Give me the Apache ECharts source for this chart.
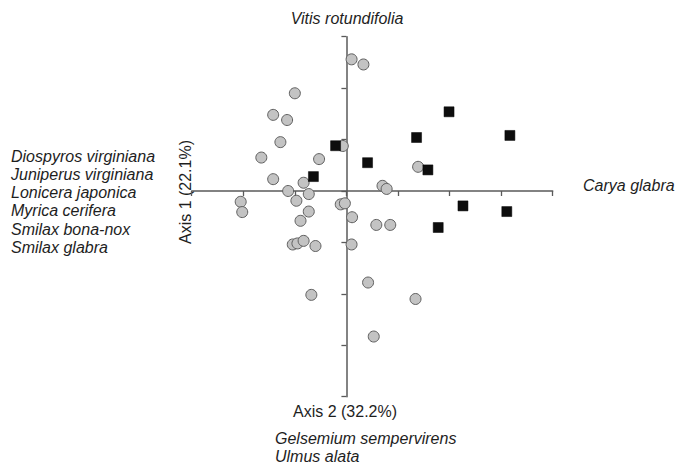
<!DOCTYPE html>
<html>
<head>
<meta charset="utf-8">
<script src="https://cdn.jsdelivr.net/npm/echarts@6/dist/echarts.min.js"></script>
<style>
html,body{margin:0;padding:0;background:#fff;}
#chart{width:678px;height:467px;}
</style>
</head>
<body>
<div id="chart"></div>
<script>
// Circle sites (axis 2 score, axis 1 score)
const circleX = [0.10, 0.33, -1.00, -1.42, -1.15, -1.28, -0.07, -1.65, -0.53, 1.39, -1.42, -0.83, 0.70, 0.78, -1.13, -0.73, -0.97, -2.05, -2.02, -0.11, -0.03, -0.73, 0.11, -0.89, 0.58, 0.85, -1.04, -0.95, -0.83, -0.60, 0.10, 0.42, -0.68, 1.34, 0.53];
const circleY = [2.56, 2.46, 1.90, 1.48, 1.38, 0.95, 0.875, 0.65, 0.62, 0.47, 0.23, 0.16, 0.10, 0.04, 0.00, -0.06, -0.19, -0.21, -0.41, -0.26, -0.24, -0.40, -0.51, -0.58, -0.66, -0.66, -1.04, -1.02, -0.97, -1.07, -1.04, -1.78, -2.02, -2.10, -2.83];
// Square sites
const squareX = [1.99, 3.17, 1.36, -0.21, 0.41, 1.58, -0.64, 2.26, 3.11, 1.78];
const squareY = [1.54, 1.08, 1.04, 0.88, 0.55, 0.41, 0.28, -0.29, -0.40, -0.71];
// Axis ticks
const xTicks = [-3, -2, -1, 0, 1, 2, 3, 4];
const yTicks = [-4, -3, -2, -1, 0, 1, 2, 3];
// Text
const axis1Name = 'Axis 1 (22.1%)';
const axis2Name = 'Axis 2 (32.2%)';
const topSpecies = ['Vitis rotundifolia'];
const rightSpecies = ['Carya glabra'];
const leftSpecies = ['Diospyros virginiana', 'Juniperus virginiana', 'Lonicera japonica', 'Myrica cerifera', 'Smilax bona-nox', 'Smilax glabra'];
const bottomSpecies = ['Gelsemium sempervirens', 'Ulmus alata'];

const FONT = '16px "Liberation Sans", Arial, sans-serif';
const IFONT = 'italic 16px "Liberation Sans", Arial, sans-serif';
const TXT = '#1e1e1e';

const chart = echarts.init(document.getElementById('chart'), null, {renderer: 'svg'});

const graphics = [];
topSpecies.forEach((t, i) => graphics.push({type: 'text', x: 347, y: 18 + i * 18.3, style: {text: t, font: IFONT, fill: TXT, align: 'center', verticalAlign: 'middle'}}));
rightSpecies.forEach((t, i) => graphics.push({type: 'text', x: 583, y: 185 + i * 18.3, style: {text: t, font: IFONT, fill: TXT, align: 'left', verticalAlign: 'middle'}}));
leftSpecies.forEach((t, i) => graphics.push({type: 'text', x: 11, y: 156 + i * 18.3, style: {text: t, font: IFONT, fill: TXT, align: 'left', verticalAlign: 'middle'}}));
bottomSpecies.forEach((t, i) => graphics.push({type: 'text', x: 275, y: 438.5 + i * 18.3, style: {text: t, font: IFONT, fill: TXT, align: 'left', verticalAlign: 'middle'}}));
graphics.push({type: 'text', x: 345, y: 411, style: {text: axis2Name, font: FONT, fill: TXT, align: 'center', verticalAlign: 'middle'}});
graphics.push({type: 'text', x: 185, y: 192, rotation: Math.PI / 2, style: {text: axis1Name, font: FONT, fill: TXT, align: 'center', verticalAlign: 'middle'}});

const axisCommon = {
  type: 'value',
  interval: 1,
  axisLine: {show: true, onZero: true, lineStyle: {color: '#5a5a5a', width: 1.5}},
  axisTick: {show: true, inside: false, length: 5, lineStyle: {color: '#5a5a5a', width: 1.3}},
  axisLabel: {show: false},
  splitLine: {show: false}
};

chart.setOption({
  backgroundColor: '#ffffff',
  animation: false,
  grid: {left: 191.7, right: 125.3, top: 36.7, bottom: 70.3},
  xAxis: Object.assign({}, axisCommon, {min: xTicks[0], max: xTicks[xTicks.length - 1]}),
  yAxis: Object.assign({}, axisCommon, {min: yTicks[0], max: yTicks[yTicks.length - 1]}),
  graphic: graphics,
  series: [
    {
      type: 'scatter',
      symbol: 'circle',
      symbolSize: 11,
      itemStyle: {color: '#c3c3c3', borderColor: '#5f5f5f', borderWidth: 1, opacity: 1},
      data: circleX.map((x, i) => [x, circleY[i]]),
      z: 3
    },
    {
      type: 'scatter',
      symbol: 'rect',
      symbolSize: 10,
      itemStyle: {color: '#0d0d0d', borderColor: '#000', borderWidth: 0.5, opacity: 1},
      data: squareX.map((x, i) => [x, squareY[i]]),
      z: 4
    }
  ]
});
</script>
</body>
</html>
